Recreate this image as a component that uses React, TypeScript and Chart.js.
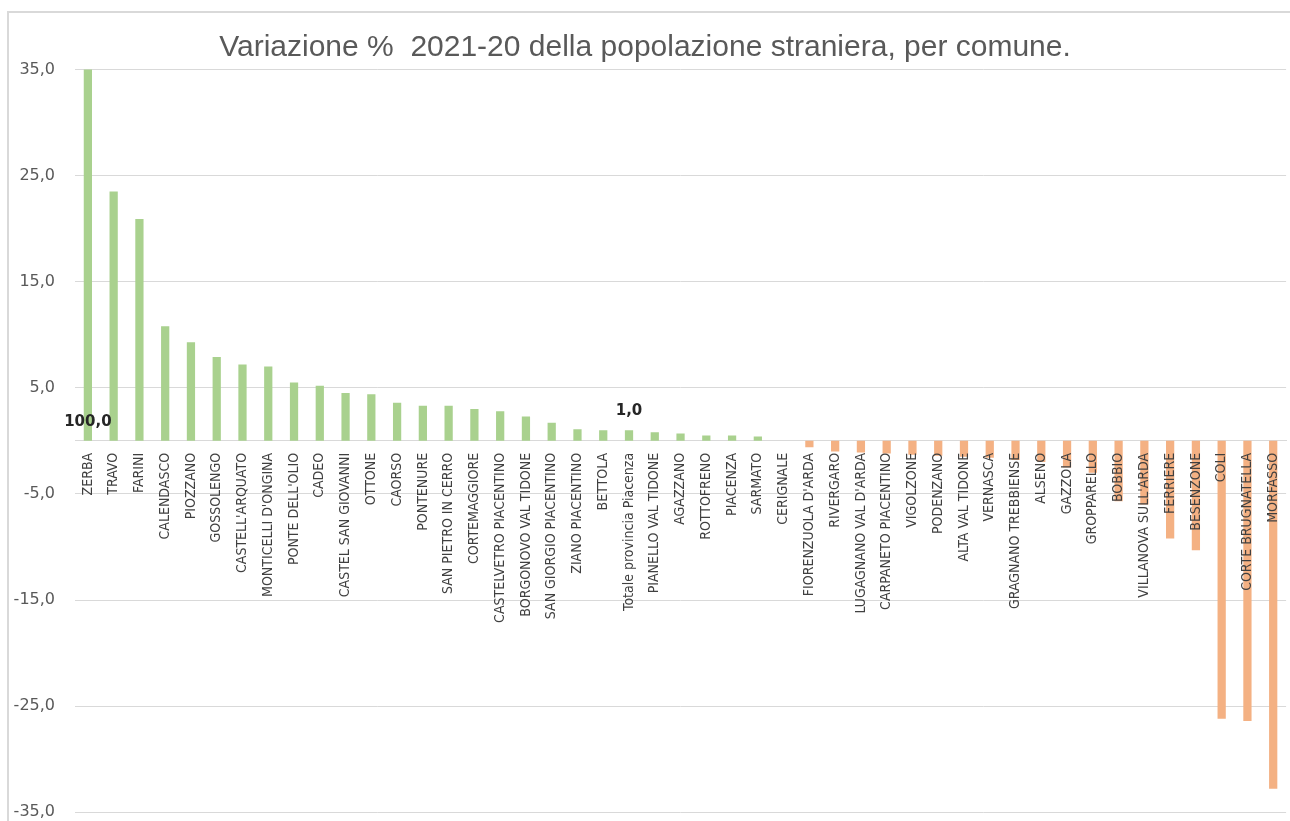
import React, { useEffect, useRef } from 'react';
import { Chart, registerables } from 'chart.js';

Chart.register(...registerables);

const chartTitle = 'Variazione %  2021-20 della popolazione straniera, per comune.';

const categories = [
  'ZERBA', 'TRAVO', 'FARINI', 'CALENDASCO', 'PIOZZANO', 'GOSSOLENGO',
  "CASTELL'ARQUATO", "MONTICELLI D'ONGINA", "PONTE DELL'OLIO", 'CADEO',
  'CASTEL SAN GIOVANNI', 'OTTONE', 'CAORSO', 'PONTENURE', 'SAN PIETRO IN CERRO',
  'CORTEMAGGIORE', 'CASTELVETRO PIACENTINO', 'BORGONOVO VAL TIDONE',
  'SAN GIORGIO PIACENTINO', 'ZIANO PIACENTINO', 'BETTOLA',
  'Totale provincia Piacenza', 'PIANELLO VAL TIDONE', 'AGAZZANO', 'ROTTOFRENO',
  'PIACENZA', 'SARMATO', 'CERIGNALE', "FIORENZUOLA D'ARDA", 'RIVERGARO',
  "LUGAGNANO VAL D'ARDA", 'CARPANETO PIACENTINO', 'VIGOLZONE', 'PODENZANO',
  'ALTA VAL TIDONE', 'VERNASCA', 'GRAGNANO TREBBIENSE', 'ALSENO', 'GAZZOLA',
  'GROPPARELLO', 'BOBBIO', "VILLANOVA SULL'ARDA", 'FERRIERE', 'BESENZONE',
  'COLI', 'CORTE BRUGNATELLA', 'MORFASSO',
];

const values = [
  100.0, 23.5, 20.9, 10.8, 9.3, 7.9,
  7.2, 7.0, 5.5, 5.2,
  4.5, 4.4, 3.6, 3.3, 3.3,
  3.0, 2.8, 2.3,
  1.7, 1.1, 1.0,
  1.0, 0.8, 0.7, 0.5,
  0.5, 0.4, 0.0, -0.6, -1.0,
  -1.1, -1.2, -1.3, -1.4,
  -1.5, -1.6, -1.8, -2.0, -2.5,
  -3.0, -5.7, -6.0, -9.2, -10.3,
  -26.2, -26.4, -32.8,
];

const yMin = -35;
const yMax = 35;
const yStep = 10;

const labelledIndices = [0, 21];

const GREEN = '#a9d18e';
const ORANGE = '#f4b183';

const fmt = (v: number) => v.toFixed(1).replace('.', ',');

export default function App() {
  const ref = useRef<HTMLCanvasElement>(null);

  useEffect(() => {
    document.body.style.margin = '0';
    const canvas = ref.current;
    if (!canvas) return;

    const dataLabelPlugin = {
      id: 'dataLabels',
      afterDatasetsDraw(chart: any) {
        const meta = chart.getDatasetMeta(0);
        const yScale = chart.scales.y;
        const c = chart.ctx;
        c.save();
        c.font = 'bold 15px "DejaVu Sans", sans-serif';
        c.fillStyle = '#262626';
        c.textAlign = 'center';
        c.textBaseline = 'middle';
        labelledIndices.forEach((i) => {
          const bar = meta.data[i];
          const v = values[i];
          const top = v > yScale.max ? yScale.getPixelForValue(0) : bar.y;
          c.fillText(fmt(v), bar.x, top - 19);
        });
        c.restore();
      },
    };

    const chart = new Chart(canvas, {
      type: 'bar',
      data: {
        labels: categories,
        datasets: [
          {
            data: values,
            backgroundColor: values.map((v) => (v >= 0 ? GREEN : ORANGE)),
            categoryPercentage: 1,
            barPercentage: 0.32,
          },
        ],
      },
      options: {
        animation: false,
        responsive: false,
        maintainAspectRatio: false,
        layout: { padding: { left: 0, right: 0, top: 16, bottom: 0 } },
        plugins: {
          legend: { display: false },
          tooltip: { enabled: false },
          title: {
            display: true,
            text: chartTitle,
            color: '#595959',
            font: { family: "'Liberation Sans', Arial, sans-serif", size: 30, weight: 'normal', lineHeight: 1.2 },
            padding: { top: 14, bottom: 3.5 },
          },
        },
        scales: {
          x: {
            position: { y: 0 } as any,
            grid: { display: true, color: 'transparent', drawTicks: true, tickLength: 12, tickColor: 'transparent' },
            border: { display: true, color: '#d9d9d9', width: 1 },
            ticks: {
              z: 1,
              autoSkip: false,
              maxRotation: 90,
              minRotation: 90,
              padding: 0,
              color: '#404040',
              font: { family: "'Liberation Sans Narrow', 'DejaVu Sans Condensed', sans-serif", size: 14 },
            },
          },
          y: {
            min: yMin,
            max: yMax,
            afterFit(scale: any) {
              scale.width = 75;
            },
            grid: { color: '#d9d9d9', drawTicks: true, tickLength: 20, tickColor: 'transparent' },
            border: { display: false },
            ticks: {
              stepSize: yStep,
              padding: 0,
              color: '#595959',
              font: { family: "'DejaVu Sans', sans-serif", size: 16, lineHeight: 1.1 },
              callback: (v: any) => fmt(Number(v)),
            },
          },
        },
      },
      plugins: [dataLabelPlugin],
    });

    return () => chart.destroy();
  }, []);

  return (
    <div style={{ position: 'relative', width: 1290, height: 821, overflow: 'hidden', background: '#fff' }}>
      <div
        style={{
          position: 'absolute',
          left: 7,
          top: 11,
          width: 1290,
          height: 821,
          borderLeft: '2px solid #d9d9d9',
          borderTop: '2px solid #d9d9d9',
        }}
      />
      <canvas ref={ref} width={1290} height={821} style={{ position: 'absolute', left: 0, top: 0 }} />
    </div>
  );
}
